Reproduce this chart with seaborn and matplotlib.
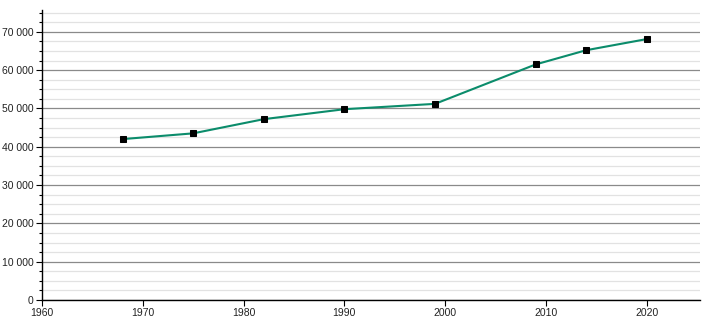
import matplotlib
matplotlib.use("Agg")
import matplotlib.pyplot as plt
import seaborn as sns
import pandas as pd
from matplotlib.ticker import MultipleLocator, FuncFormatter

years = [1968, 1975, 1982, 1990, 1999, 2009, 2014, 2020]
population = [42000, 43500, 47200, 49800, 51200, 61500, 65200, 68100]

sns.set_style("white")
plt.rcParams['font.family'] = ['Liberation Sans', 'DejaVu Sans']

df = pd.DataFrame({"year": years, "population": population})

fig = plt.figure(figsize=(7.1, 3.2), dpi=100)
ax = fig.add_axes([42/710, 20/320, (700-42)/710, (300-10)/320])

ax.set_xlim(1960, 2025.3)
ax.set_ylim(0, 75700)

ax.yaxis.set_major_locator(MultipleLocator(10000))
ax.yaxis.set_minor_locator(MultipleLocator(2500))
ax.xaxis.set_major_locator(MultipleLocator(10))
ax.grid(which='major', axis='y', color='#8a8a8a', linewidth=0.9)
ax.grid(which='minor', axis='y', color='#e2e2e2', linewidth=0.9)
ax.set_axisbelow(True)

sns.lineplot(data=df, x="year", y="population", ax=ax, color='#0b8c6b',
             linewidth=1.5, marker='s', markersize=3.8,
             markerfacecolor='black', markeredgecolor='black', zorder=3)

ax.yaxis.set_major_formatter(FuncFormatter(lambda v, p: f"{int(v):,}".replace(",", " ")))
ax.set_xlabel("")
ax.set_ylabel("")
for s in ['top', 'right']:
    ax.spines[s].set_visible(False)
for s in ['left', 'bottom']:
    ax.spines[s].set_color('black')
    ax.spines[s].set_linewidth(1.0)

ax.tick_params(axis='both', which='major', direction='out', length=4, width=0.8,
               color='black', labelsize=7.5, labelcolor='#222222', pad=2, left=True, bottom=True)
ax.tick_params(axis='y', which='minor', direction='out', length=2.5, width=0.8,
               color='black', left=True)

fig.savefig("out.png", dpi=100)
